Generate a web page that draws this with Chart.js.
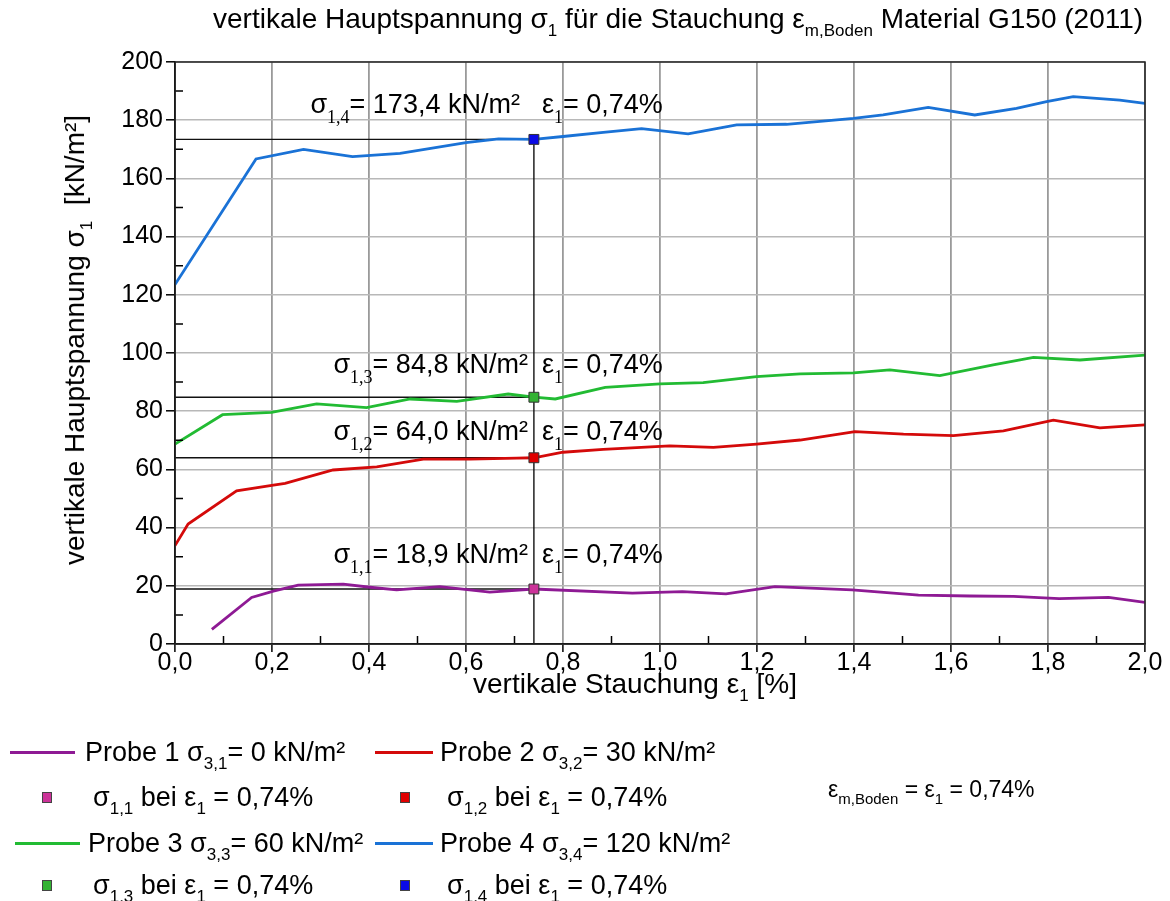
<!DOCTYPE html>
<html><head><meta charset="utf-8">
<script src="https://cdn.jsdelivr.net/npm/chart.js@4/dist/chart.umd.min.js"></script>
<style>
html,body{margin:0;padding:0;background:#fff;}
#wrap{position:relative;width:1170px;height:901px;font-family:"Liberation Sans",Arial,sans-serif;color:#000;overflow:hidden;}
#c{position:absolute;left:0;top:0;}
.t{position:absolute;white-space:nowrap;font-size:27px;line-height:27px;}
.t sub{font-size:17px;vertical-align:-8px;line-height:0;}
.big{font-size:28px;line-height:28px;}
.big sub{font-size:17px;vertical-align:-8px;}
.sm{font-size:23px;line-height:23px;}
.sm sub{font-size:15px;vertical-align:-7px;}
.ln{position:absolute;height:3px;}
.mk{position:absolute;width:8px;height:9px;border:1px solid #444;}
</style></head>
<body><div id="wrap">
<canvas id="c" width="1170" height="901"></canvas>
<div class="t big" style="left:213px;top:5px;">vertikale Hauptspannung σ<sub>1</sub> für die Stauchung ε<sub>m,Boden</sub> Material G150 (2011)</div>
<div class="t big" style="left:75px;top:340px;transform:translate(-50%,-50%) rotate(-90deg);">vertikale Hauptspannung σ<sub>1</sub>&nbsp; [kN/m²]</div>
<div class="t big" style="left:473px;top:670px;">vertikale Stauchung ε<sub>1</sub> [%]</div>

<div class="ln" style="left:10px;top:751px;width:65px;background:#8e1a94;"></div>
<div class="t" style="left:85px;top:739px;">Probe 1 σ<sub>3,1</sub>= 0 kN/m²</div>
<div class="ln" style="left:375px;top:751px;width:58px;background:#d40a0a;"></div>
<div class="t" style="left:440px;top:739px;">Probe 2 σ<sub>3,2</sub>= 30 kN/m²</div>

<div class="mk" style="left:42px;top:792px;background:#cc3399;"></div>
<div class="t" style="left:93px;top:784px;">σ<sub>1,1</sub> bei ε<sub>1</sub> = 0,74%</div>
<div class="mk" style="left:400px;top:792px;background:#e00000;"></div>
<div class="t" style="left:447px;top:784px;">σ<sub>1,2</sub> bei ε<sub>1</sub> = 0,74%</div>

<div class="t sm" style="left:828px;top:778px;">ε<sub>m,Boden</sub> = ε<sub>1</sub> = 0,74%</div>

<div class="ln" style="left:15px;top:842px;width:65px;background:#22bb33;"></div>
<div class="t" style="left:88px;top:830px;">Probe 3 σ<sub>3,3</sub>= 60 kN/m²</div>
<div class="ln" style="left:375px;top:842px;width:58px;background:#1a72d6;"></div>
<div class="t" style="left:440px;top:830px;">Probe 4 σ<sub>3,4</sub>= 120 kN/m²</div>

<div class="mk" style="left:42px;top:880px;background:#33b233;"></div>
<div class="t" style="left:93px;top:872px;">σ<sub>1,3</sub> bei ε<sub>1</sub> = 0,74%</div>
<div class="mk" style="left:400px;top:880px;background:#0a0ae6;"></div>
<div class="t" style="left:447px;top:872px;">σ<sub>1,4</sub> bei ε<sub>1</sub> = 0,74%</div>
</div>
<script>
// ---- data ----
const probe1X = [0.076,0.158,0.203,0.254,0.347,0.402,0.457,0.546,0.649,0.74,0.943,1.046,1.136,1.237,1.396,1.533,1.639,1.729,1.823,1.925,2.0];
const probe1Y = [5.0,16.0,18.2,20.2,20.6,19.5,18.6,19.7,17.8,18.9,17.5,18.0,17.2,19.7,18.6,16.8,16.5,16.4,15.6,16.0,14.3];
const probe2X = [0.0,0.027,0.127,0.203,0.227,0.326,0.416,0.512,0.608,0.705,0.74,0.80,0.883,1.02,1.11,1.199,1.289,1.402,1.502,1.605,1.708,1.811,1.907,2.0];
const probe2Y = [33.8,41.2,52.6,54.6,55.2,59.8,60.9,63.5,63.5,63.9,64.0,65.9,66.9,68.1,67.6,68.7,70.1,73.0,72.1,71.6,73.2,76.9,74.3,75.3];
const probe3X = [0.0,0.098,0.199,0.292,0.395,0.485,0.581,0.687,0.74,0.784,0.887,1.0,1.089,1.199,1.289,1.399,1.474,1.577,1.687,1.77,1.866,2.0];
const probe3Y = [68.7,78.8,79.6,82.5,81.2,84.2,83.4,85.9,84.8,84.2,88.2,89.4,89.8,91.9,92.8,93.2,94.2,92.2,95.9,98.5,97.6,99.3];
const probe4X = [0.0,0.167,0.265,0.366,0.464,0.60,0.667,0.74,0.80,0.883,0.962,1.058,1.158,1.261,1.399,1.46,1.553,1.649,1.735,1.797,1.852,1.948,2.0];
const probe4Y = [123.5,166.7,170.0,167.5,168.6,172.3,173.6,173.4,174.4,175.8,177.1,175.3,178.4,178.6,180.6,181.8,184.4,181.8,184.1,186.4,188.1,186.9,185.8];
const markerStrain = 0.74;
const markerValues = [18.9, 64.0, 84.8, 173.4];
const markerSubs = ['1,1','1,2','1,3','1,4'];
const seriesNames = ['Probe 1','Probe 2','Probe 3','Probe 4'];
const lineColors = ['#8e1a94','#d40a0a','#22bb33','#1a72d6'];
const markerColors = ['#cc3399','#e00000','#33b233','#0a0ae6'];
const xTicks = [0,0.2,0.4,0.6,0.8,1.0,1.2,1.4,1.6,1.8,2.0];
const yTicks = [0,20,40,60,80,100,120,140,160,180,200];

const fmt = v => v.toFixed(1).replace('.', ',');
const zip = (xs, ys) => xs.map((x, i) => ({x, y: ys[i]}));

const datasets = [];
[[probe1X,probe1Y],[probe2X,probe2Y],[probe3X,probe3Y],[probe4X,probe4Y]].forEach((s, i) => {
  datasets.push({label: seriesNames[i], data: zip(s[0], s[1]), borderColor: lineColors[i], borderWidth: 2.8,
    pointRadius: 0, showLine: true, tension: 0, order: 1});
});
markerValues.forEach((v, i) => {
  datasets.push({label: 'ref' + i, data: [{x: 0, y: v}, {x: markerStrain, y: v}], borderColor: '#111', borderWidth: 1.4,
    pointRadius: 0, showLine: true, order: 2});
});
datasets.push({label: 'vref', data: [{x: markerStrain, y: 0}, {x: markerStrain, y: Math.max(...markerValues)}],
  borderColor: '#111', borderWidth: 1.4, pointRadius: 0, showLine: true, order: 2});
markerValues.forEach((v, i) => {
  datasets.push({label: 'm' + i, data: [{x: markerStrain, y: v}], pointStyle: 'rect', pointRadius: 7,
    backgroundColor: markerColors[i], borderColor: '#333', borderWidth: 1, showLine: false, order: 0});
});

const extrasPlugin = {
  id: 'extras',
  afterDatasetsDraw(chart) {
    const {ctx, chartArea: a, scales: {x, y}} = chart;
    ctx.save();
    // minor ticks (inward)
    ctx.strokeStyle = '#000'; ctx.lineWidth = 1.5;
    ctx.beginPath();
    for (let k = 0; k < xTicks.length - 1; k++) {
      const px = x.getPixelForValue((xTicks[k] + xTicks[k+1]) / 2);
      ctx.moveTo(px, a.bottom); ctx.lineTo(px, a.bottom - 8);
    }
    for (let k = 0; k < yTicks.length - 1; k++) {
      const py = y.getPixelForValue((yTicks[k] + yTicks[k+1]) / 2);
      ctx.moveTo(a.left, py); ctx.lineTo(a.left + 8, py);
    }
    ctx.stroke();
    // frame
    ctx.lineWidth = 1.5; ctx.strokeStyle = '#222';
    ctx.strokeRect(a.left, a.top, a.right - a.left, a.bottom - a.top);
    // annotations
    const mainFont = '27px "Liberation Sans", Arial, sans-serif';
    const subFont = '18px "Liberation Serif", "Times New Roman", serif';
    const mx = x.getPixelForValue(markerStrain);
    const offs = [26, 18, 24, 26];
    const gaps = [6, 6, 6, 14];
    const drawParts = (parts, startX, base) => {
      let cx = startX;
      parts.forEach(p => {
        ctx.font = p.sub ? subFont : mainFont;
        ctx.fillText(p.t, cx, base + (p.sub ? 10 : 0));
        cx += ctx.measureText(p.t).width;
      });
    };
    const widthOf = parts => parts.reduce((w, p) => { ctx.font = p.sub ? subFont : mainFont; return w + ctx.measureText(p.t).width; }, 0);
    ctx.fillStyle = '#000'; ctx.textBaseline = 'alphabetic'; ctx.textAlign = 'left';
    markerValues.forEach((v, i) => {
      const base = y.getPixelForValue(v) - offs[i];
      const left = [{t: 'σ'}, {t: markerSubs[i], sub: true}, {t: '= ' + fmt(v) + ' kN/m²'}];
      const right = [{t: 'ε'}, {t: '1', sub: true}, {t: '= 0,74%'}];
      drawParts(left, mx - gaps[i] - widthOf(left), base);
      drawParts(right, mx + 8, base);
    });
    ctx.restore();
  }
};

new Chart(document.getElementById('c'), {
  type: 'scatter',
  data: {datasets},
  plugins: [extrasPlugin],
  options: {
    responsive: false, animation: false, devicePixelRatio: 1,
    layout: {padding: {left: 0, top: 62, right: 25, bottom: 212}},
    plugins: {legend: {display: false}, tooltip: {enabled: false}, title: {display: false}},
    scales: {
      x: {type: 'linear', min: 0, max: 2,
        afterBuildTicks: s => { s.ticks = xTicks.map(v => ({value: v})); },
        afterFit: s => { s.height = 45; },
        ticks: {callback: v => fmt(v), color: '#000', padding: -4, maxRotation: 0,
          font: {family: '"Liberation Sans", Arial, sans-serif', size: 25}},
        grid: {color: '#9a9a9a', lineWidth: 1.8, tickLength: 8, tickColor: '#000', tickWidth: 1.5},
        border: {color: '#000', width: 1.5}
      },
      y: {type: 'linear', min: 0, max: 200,
        afterBuildTicks: s => { s.ticks = yTicks.map(v => ({value: v})); },
        afterFit: s => { s.width = 175; },
        ticks: {color: '#000', padding: 3,
          font: {family: '"Liberation Sans", Arial, sans-serif', size: 25}},
        grid: {color: '#b8b8b8', lineWidth: 1.6, tickLength: 9, tickColor: '#000', tickWidth: 1.5},
        border: {color: '#000', width: 1.5}
      }
    }
  }
});
</script>
</body></html>
